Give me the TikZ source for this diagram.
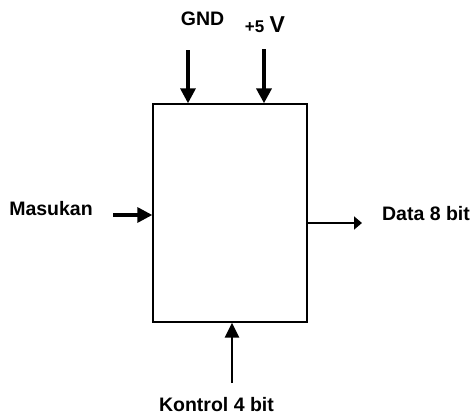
\documentclass[tikz,border=0pt]{standalone}
\usepackage{fontspec}
\setmainfont{Liberation Sans}
\usetikzlibrary{arrows.meta}
\begin{document}
\begin{tikzpicture}[x=1pt,y=-1pt,
  lbl/.style={font=\fontsize{19.5}{21}\selectfont\bfseries, inner sep=0pt, anchor=base},
  blk/.style={draw, line width=1.4pt, minimum width=154pt, minimum height=218pt, inner sep=0pt},
  thickarrow/.style={line width=3.3pt, -{Triangle[length=15pt,width=15pt]}},
  heavyarrow/.style={line width=3.8pt, -{Triangle[length=15pt,width=15pt]}},
  midarrow/.style={line width=2.6pt, -{Triangle[length=15pt,width=14pt]}},
  thinarrow/.style={line width=1.8pt, -{Triangle[length=8pt,width=13pt]}}
]
\useasboundingbox (0,0) rectangle (472,415);
\node[blk] (box) at (230,213) {};
\node[lbl] (gnd) at (202.5,25) {GND};
\node[lbl, anchor=base] (vcc) at (265,32) {{\fontsize{17}{18}\selectfont +5} {\fontsize{23}{24}\selectfont V}};
\node[lbl, anchor=base] (in) at (51,215) {Masukan};
\node[lbl, anchor=base] (out) at (426,220) {Data 8 bit};
\node[lbl, anchor=base] (ctl) at (216.5,411) {Kontrol 4 bit};
\coordinate (gndS) at (188,50);
\coordinate (vccS) at (264,49);
\coordinate (inS) at (113,215);
\coordinate (outE) at (362,223);
\coordinate (ctlS) at (232,383);
\draw[thickarrow] (gndS) -- (gndS |- box.north);
\draw[heavyarrow] (vccS) -- (vccS |- box.north);
\draw[thickarrow] (inS) -- (inS -| box.west);
\draw[thinarrow] (outE -| box.east) -- (outE);
\draw[midarrow] (ctlS) -- (ctlS |- box.south);
\end{tikzpicture}
\end{document}
